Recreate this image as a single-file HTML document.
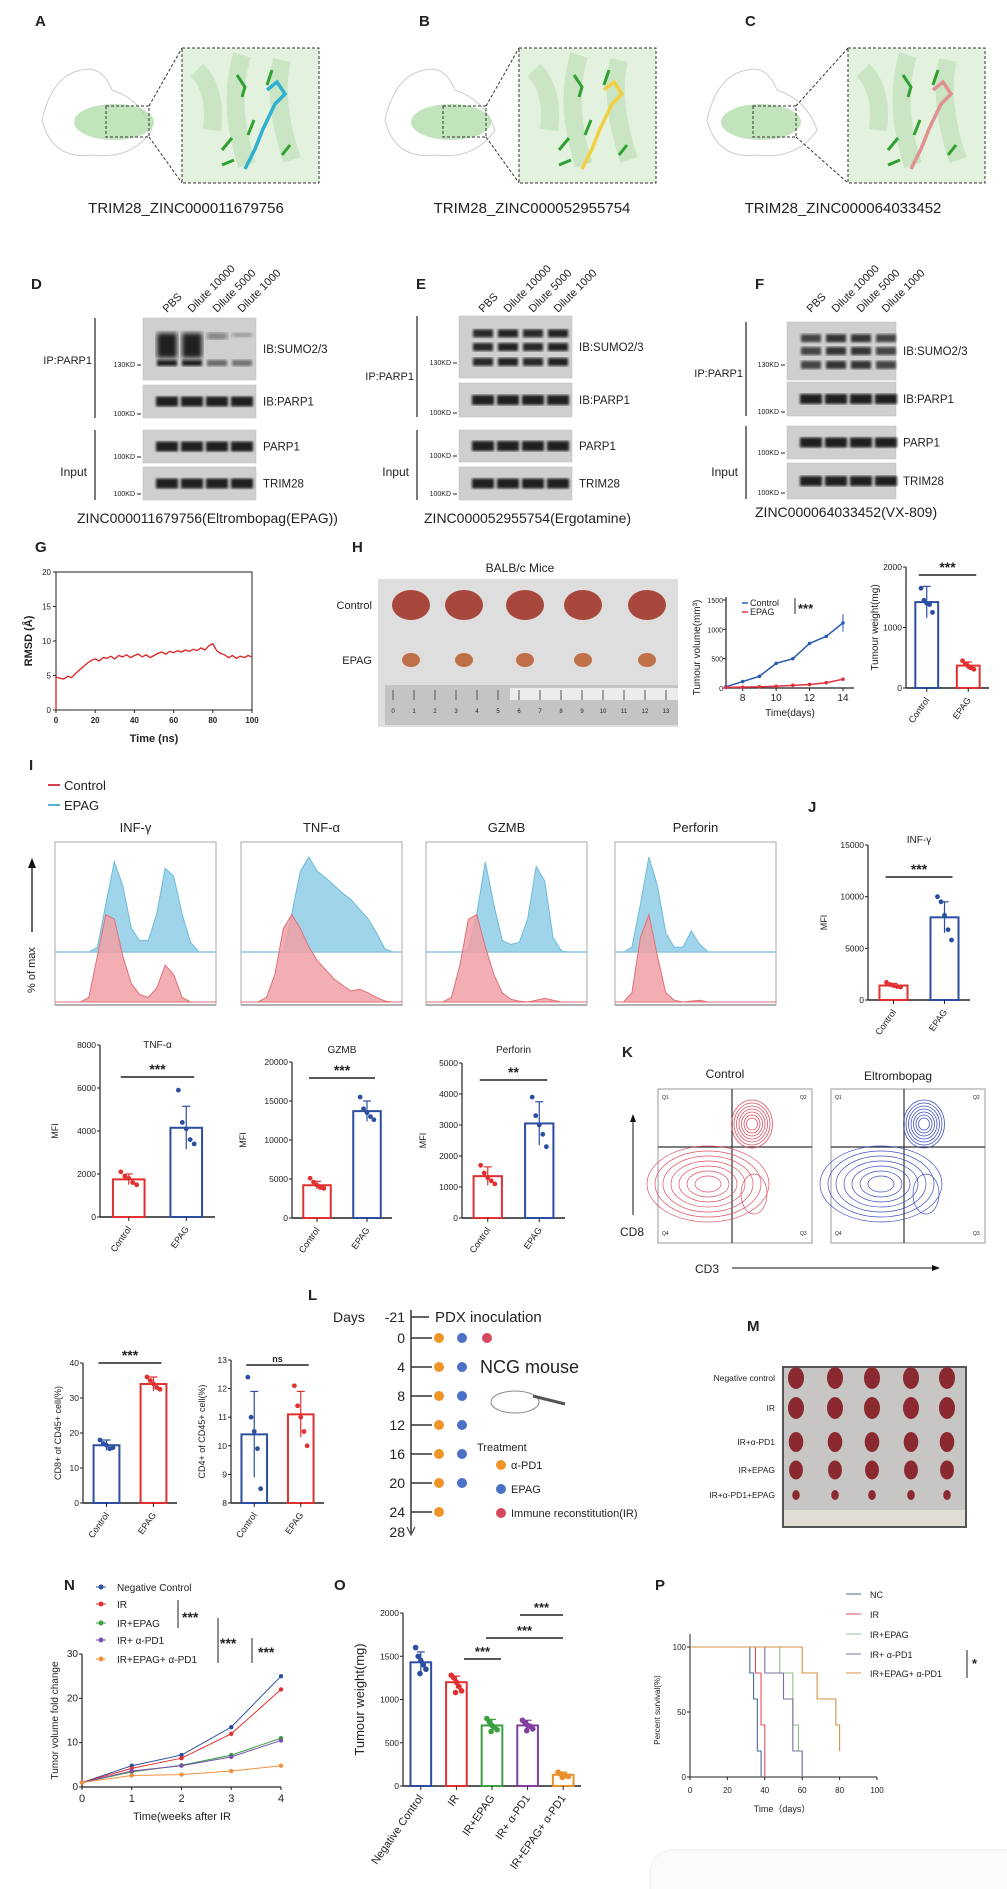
<!DOCTYPE html>
<html><head><meta charset="utf-8">
<style>
html,body{margin:0;padding:0;background:#fff;}
#fig{position:absolute;left:0;top:0;width:1007px;height:1889px;font-family:"Liberation Sans",sans-serif;}
svg text{font-family:"Liberation Sans",sans-serif;}
</style></head>
<body>
<svg id="fig" xmlns="http://www.w3.org/2000/svg" width="1007" height="1889" viewBox="0 0 1007 1889">
<defs>
<filter id="blur1"><feGaussianBlur stdDeviation="1.4"/></filter>
<filter id="blur2"><feGaussianBlur stdDeviation="2.5"/></filter>
</defs>
<g id="root"></g>
</svg>
<script>
// ===== DATA =====
const rmsdTime=[0,2,4,6,8,10,12,14,16,18,20,22,24,26,28,30,32,34,36,38,40,42,44,46,48,50,52,54,56,58,60,62,64,66,68,70,72,74,76,78,80,82,84,86,88,90,92,94,96,98,100];
const rmsdVals=[4.8,4.6,4.5,4.9,4.7,5.3,5.8,6.3,6.8,7.2,7.4,7.1,7.6,7.5,7.8,7.4,7.9,7.7,8.0,7.6,7.9,8.1,7.7,8.0,7.6,7.9,8.2,8.4,8.1,8.5,8.3,8.6,8.4,8.7,8.5,8.8,8.6,9.0,8.7,9.3,9.6,8.6,8.2,8.0,7.6,7.9,7.5,7.8,7.6,7.9,7.7];

const tvDays=[7,8,9,10,11,12,13,14];
const tvControl=[20,110,200,420,500,760,880,1110];
const tvEPAG=[10,15,20,30,45,60,90,150];
const tvTicks=[0,500,1000,1500];

const hwCats=["Control","EPAG"];
const hwVals=[1420,370];
const hwErr=[260,60];
const hwPts=[[1650,1450,1400,1380,1250],[450,400,360,330,310]];
const hwTicks=[0,1000,2000];

const histNames=["INF-γ","TNF-α","GZMB","Perforin"];
const histEPAG=[
 [0,0,0,0,0,0.05,0.5,0.95,0.7,0.25,0.12,0.12,0.4,0.88,0.8,0.4,0.1,0,0,0],
 [0,0,0,0,0,0,0.4,0.85,1.0,0.85,0.78,0.7,0.62,0.55,0.45,0.35,0.2,0.03,0,0],
 [0,0,0,0,0,0.02,0.4,0.95,0.5,0.12,0.08,0.1,0.35,0.9,0.75,0.15,0.01,0,0,0],
 [0,0,0.05,0.5,1.0,0.7,0.2,0.05,0.05,0.22,0.08,0,0,0,0,0,0,0,0,0]];
const histControl=[
 [0,0,0,0,0.05,0.5,0.95,0.9,0.5,0.2,0.08,0.05,0.15,0.4,0.3,0.05,0,0,0,0],
 [0,0,0,0.05,0.3,0.8,0.95,0.8,0.6,0.45,0.35,0.25,0.18,0.12,0.14,0.1,0.05,0.01,0,0],
 [0,0,0,0.05,0.4,0.9,0.95,0.6,0.3,0.1,0.03,0.01,0,0.02,0.04,0.02,0,0,0,0],
 [0,0,0.1,0.7,0.95,0.5,0.1,0.02,0,0.01,0.02,0,0,0,0,0,0,0,0,0]];

const jVals=[1400,8000]; const jErr=[200,1500]; const jPts=[[1700,1500,1400,1300,1250],[10000,9500,8200,6800,5800]]; const jTicks=[0,5000,10000,15000];
const tnfVals=[1750,4150]; const tnfErr=[250,1000]; const tnfPts=[[2100,1900,1800,1600,1500],[5900,4400,4100,3600,3400]]; const tnfTicks=[0,2000,4000,6000,8000];
const gzVals=[4200,13700]; const gzErr=[500,1300]; const gzPts=[[5100,4600,4200,3900,3800],[15500,14000,13500,13000,12600]]; const gzTicks=[0,5000,10000,15000,20000];
const pfVals=[1350,3050]; const pfErr=[300,700]; const pfPts=[[1700,1450,1300,1200,1100],[3900,3300,3000,2700,2300]]; const pfTicks=[0,1000,2000,3000,4000,5000];
const cd8Vals=[16.5,34]; const cd8Err=[1.5,2]; const cd8Pts=[[18,17,16.5,15.5,15.8],[36,35,34,33,32.5]]; const cd8Ticks=[0,10,20,30,40];
const cd4Vals=[10.4,11.1]; const cd4Err=[1.5,0.8]; const cd4Pts=[[12.4,11,10.5,9.9,8.5],[12.1,11.4,11,10.5,10]]; const cd4Ticks=[8,9,10,11,12,13];

const oCats=["Negative Control","IR","IR+EPAG","IR+ α-PD1","IR+EPAG+  α-PD1"];
const oVals=[1430,1200,700,700,130];
const oErr=[120,70,70,60,30];
const oPts=[[1600,1500,1450,1400,1350,1300],[1280,1250,1200,1150,1100,1080],[780,740,700,680,650,630],[760,730,700,690,660,640],[160,140,130,120,110,100]];
const oTicks=[0,500,1000,1500,2000];
const oColors=["#2b4ea0","#e03030","#3aa040","#8040a0","#e8902a"];

const nWeeks=[0,1,2,3,4];
const nSeries=[[1,4.8,7.2,13.5,25],[1,4.2,6.5,12,22],[1,3.4,4.9,7.2,11],[1,3.6,4.8,6.8,10.5],[1,2.6,2.8,3.6,4.8]];
const nNames=["Negative Control","IR","IR+EPAG","IR+ α-PD1","IR+EPAG+  α-PD1"];
const nColors=["#2b4ea0","#e03030","#3aa040","#7a50b0","#f09040"];
const nTicks=[0,10,20,30];

const pNames=["NC","IR","IR+EPAG","IR+ α-PD1","IR+EPAG+  α-PD1"];
const pColors=["#4a6a9a","#e05060","#90c090","#7a70a0","#d09040"];
const pTimes=[[0,32,34,36,38],[0,35,38,40,40],[0,48,55,58,60],[0,40,50,55,60],[0,60,68,78,80]];
const pSurv=[[100,80,60,20,0],[100,80,40,0,0],[100,80,40,20,0],[100,80,60,20,0],[100,80,60,40,20]];

// ===== HELPERS =====
const NS="http://www.w3.org/2000/svg";
const root=document.getElementById('root');
function mk(tag,attrs,name,parent){
 const el=document.createElementNS(NS,tag);
 for(const k in attrs) el.setAttribute(k,attrs[k]);
 
 
 (parent||root).appendChild(el); return el;
}
function T(x,y,s,size,name,opts,parent){
 opts=opts||{};
 const a={x:x,y:y,'font-size':size,fill:opts.fill||'#222'};
 if(opts.anchor)a['text-anchor']=opts.anchor;
 if(opts.weight)a['font-weight']=opts.weight;
 if(opts.rot!==undefined)a.transform='rotate('+opts.rot+' '+x+' '+y+')';
 if(opts.family)a['font-family']=opts.family;
 const t=mk('text',a,name,parent); t.textContent=s; return t;
}
function L(x1,y1,x2,y2,name,stroke,w,parent){return mk('line',{x1:x1,y1:y1,x2:x2,y2:y2,stroke:stroke||'#222','stroke-width':w||1},name,parent);}

[["A",35,26],["B",419,26],["C",745,26],["D",31,289],["E",416,289],["F",755,289],["G",35,552],["H",352,552],["I",29,770],["J",808,812],["K",622,1057],["L",308,1300],["M",747,1331],["N",64,1590],["O",334,1590],["P",655,1590]].forEach(p=>{
 T(p[1],p[2],p[0],15,'panel-label-'+p[0].toLowerCase(),{weight:'bold'});
});

// ===== A-C structures =====
const structs=[{ox:42,sx:106,bx:182,lab:"TRIM28_ZINC000011679756",lx:186,lig:"#30b0d0"},{ox:385,sx:443,bx:519,lab:"TRIM28_ZINC000052955754",lx:532,lig:"#f0d040"},{ox:707,sx:753,bx:848,lab:"TRIM28_ZINC000064033452",lx:843,lig:"#e09090"}];
structs.forEach((s,i)=>{
 const g=mk('g',{},'structure-panel-'+i);
 mk('path',{d:`M${s.ox},120 q10,-45 40,-50 q20,-5 30,20 q30,10 40,40 q-20,30 -60,25 q-40,5 -50,-35`,fill:'none',stroke:'#ccc','stroke-width':1},'protein-coil',g);
 mk('ellipse',{cx:s.sx+8,cy:122,rx:40,ry:18,fill:'#a8d8a0',opacity:0.7},'protein-helices',g);
 mk('rect',{x:s.sx,y:106,width:43,height:31,fill:'none',stroke:'#333','stroke-dasharray':'3,2'},'zoom-box-small',g);
 L(s.sx+43,106,s.bx,48,'zoom-line',"#333",1,g).setAttribute('stroke-dasharray','3,2');
 L(s.sx+43,137,s.bx,183,'zoom-line',"#333",1,g).setAttribute('stroke-dasharray','3,2');
 mk('rect',{x:s.bx,y:48,width:137,height:135,fill:'#e3f2de',stroke:'#333','stroke-dasharray':'3,2'},'zoom-box-large',g);
 mk('path',{d:`M${s.bx+15},70 q20,20 15,60 M${s.bx+100},60 q-10,40 10,100 M${s.bx+60},55 q-15,50 5,110`,fill:'none',stroke:'#b8dcb0','stroke-width':18,opacity:0.6},'helix-bg',g);
 mk('path',{d:`M${s.bx+85},90 l10,-8 l8,12 l-10,10 l-12,25 l-8,20 l-10,20`,fill:'none',stroke:s.lig,'stroke-width':3.5},'ligand',g);
 mk('path',{d:`M${s.bx+55},75 l8,12 l-3,10 M${s.bx+85},85 l5,-15 M${s.bx+40},150 l10,-12 M${s.bx+40},165 l12,-5 M${s.bx+72},120 l-6,15 M${s.bx+100},155 l8,-10`,fill:'none',stroke:'#30a030','stroke-width':3},'residues',g);
 T(s.lx,213,s.lab,15,'structure-caption',{anchor:'middle'},g);
});

// ===== D-F blots =====
const blots=[{x:143,w:113,cap:"ZINC000011679756(Eltrombopag(EPAG))",capx:77,capy:523,rows:[[318,62],[385,33],[430,33],[467,33]],sumo:[1,1,0.25,0.15],ipy:360,bk:95},
 {x:459,w:113,cap:"ZINC000052955754(Ergotamine)",capx:424,capy:523,rows:[[316,62],[383,34],[430,32],[467,33]],sumo:[0.85,0.9,0.85,0.9],ipy:376,bk:417},
 {x:787,w:109,cap:"ZINC000064033452(VX-809)",capx:755,capy:517,rows:[[322,58],[382,34],[426,33],[463,36]],sumo:[0.6,0.75,0.75,0.6],ipy:373,bk:746}];
const laneLab=["PBS","Dilute 10000","Dilute 5000","Dilute 1000"];
const rowNames=['IB:SUMO2/3','IB:PARP1','PARP1','TRIM28'];
blots.forEach((b,bi)=>{
 const g=mk('g',{},'western-blot-'+bi);
 laneLab.forEach((l,i)=>T(b.x+24+i*25,313,l,11,'lane-label',{rot:-45},g));
 b.rows.forEach((r,ri)=>{
  mk('rect',{x:b.x,y:r[0],width:b.w,height:r[1],fill:'#cfcfcf',stroke:'#bbb','stroke-width':0.5},'blot-strip',g);
  for(let i=0;i<4;i++){
   const cx=b.x+24+i*25;
   if(ri===0){
    const s=b.sumo[i];
    if(bi===0){
     mk('rect',{x:cx-10,y:r[0]+15,width:20,height:25*s,fill:'#111',opacity:0.3+0.6*s,filter:'url(#blur2)'},'band',g);
     mk('rect',{x:cx-10,y:r[0]+42,width:20,height:6,fill:'#111',opacity:0.4+0.5*s,filter:'url(#blur1)'},'band',g);
    } else {
     [0.28,0.5,0.74].forEach(f=>mk('rect',{x:cx-10,y:r[0]+r[1]*f-4,width:20,height:8,fill:'#111',opacity:0.35+0.6*s,filter:'url(#blur1)'},'band',g));
    }
   } else {
    mk('rect',{x:cx-11,y:r[0]+r[1]/2-5,width:22,height:10,fill:'#111',opacity:0.9,filter:'url(#blur1)'},'band',g);
   }
  }
  T(b.x+b.w+7,r[0]+r[1]/2+4,rowNames[ri],11.5,'blot-label',{},g);
 });
 [[b.rows[0][0]+b.rows[0][1]-15,'130KD'],[b.rows[1][0]+b.rows[1][1]-4,'100KD'],[b.rows[2][0]+b.rows[2][1]-6,'100KD'],[b.rows[3][0]+b.rows[3][1]-6,'100KD']].forEach(m=>{
  T(b.x-8,m[0]+2,m[1],7,'mw-marker',{anchor:'end'},g);L(b.x-6,m[0],b.x-2,m[0],'mw-tick','#222',1,g);
 });
 L(b.bk,b.rows[0][0],b.bk,b.rows[1][0]+b.rows[1][1],'bracket',"#222",1.2,g);
 T(b.bk-3,b.ipy+4,'IP:PARP1',11,'ip-label',{anchor:'end'},g);
 L(b.bk,b.rows[2][0],b.bk,b.rows[3][0]+b.rows[3][1],'bracket',"#222",1.2,g);
 T(b.bk-8,476,'Input',12,'input-label',{anchor:'end'},g);
 T(b.capx,b.capy,b.cap,14,'blot-caption',{},g);
});

// ===== G RMSD =====
(function(){
 const X=56,Y=572,W=196,H=138,xmax=100,ymax=20;
 const g=mk('g',{},'rmsd-chart');
 const sx=v=>X+v/xmax*W, sy=v=>Y+H-v/ymax*H;
 mk('rect',{x:X,y:Y,width:W,height:H,fill:'none',stroke:'#222'},'plot-frame',g);
 [0,5,10,15,20].forEach(t=>{L(X-3,sy(t),X,sy(t),'y-tick','#222',1,g);T(X-5,sy(t)+3,String(t),8,'y-tick-label',{anchor:'end'},g);});
 [0,20,40,60,80,100].forEach(t=>{L(sx(t),Y+H,sx(t),Y+H+3,'x-tick','#222',1,g);T(sx(t),Y+H+13,String(t),8,'x-tick-label',{anchor:'middle',weight:'bold'},g);});
 T(X+W/2,Y+H+32,'Time (ns)',11,'x-axis-title',{anchor:'middle',weight:'bold',family:'Liberation Serif'},g);
 T(32,Y+H/2,'RMSD (Å)',11,'y-axis-title',{anchor:'middle',weight:'bold',rot:-90,family:'Liberation Serif'},g);
 let d='M'+sx(0)+','+sy(0);
 rmsdTime.forEach((t,i)=>d+=' L'+sx(t).toFixed(1)+','+sy(rmsdVals[i]).toFixed(1));
 mk('path',{d:d,fill:'none',stroke:'#e02020','stroke-width':1.3},'rmsd-line',g);
})();

// ===== H photo =====
(function(){
 const g=mk('g',{},'tumour-photo-h');
 T(520,572,'BALB/c Mice',12,'photo-title',{anchor:'middle'},g);
 mk('rect',{x:378,y:579,width:300,height:148,fill:'#dedede'},'photo-background',g);
 T(372,609,'Control',11,'row-label',{anchor:'end'},g);
 T(372,664,'EPAG',11,'row-label',{anchor:'end'},g);
 [411,464,525,583,647].forEach((x,i)=>{
  mk('ellipse',{cx:x,cy:605,rx:19,ry:15,fill:'#a8483c'},'tumour',g);
  mk('ellipse',{cx:x,cy:660,rx:9,ry:7,fill:'#c07048'},'tumour',g);
 });
 mk('rect',{x:385,y:685,width:293,height:40,fill:'#c4c4c4'},'ruler',g);
 mk('rect',{x:510,y:688,width:168,height:12,fill:'#ececec'},'ruler-highlight',g);
 for(let i=0;i<14;i++){L(393+i*21,690,393+i*21,700,'ruler-tick','#555',1,g);T(393+i*21,713,String(i),6,'ruler-label',{anchor:'middle'},g);}
})();

// ===== H tumour volume =====
(function(){
 const X=726,Y=597,W=128,H=91,xmin=7,xmax=14.66,ymax=1551;
 const g=mk('g',{},'tumour-volume-chart');
 const sx=v=>X+(v-xmin)/(xmax-xmin)*W, sy=v=>Y+H-v/ymax*H;
 L(X,Y,X,Y+H,'y-axis','#222',1.2,g);L(X,Y+H,X+W,Y+H,'x-axis','#222',1.2,g);
 tvTicks.forEach(t=>{L(X-3,sy(t),X,sy(t),'y-tick','#222',1,g);T(X-3,sy(t)+3,String(t),7,'y-tick-label',{anchor:'end'},g);});
 [8,10,12,14].forEach(t=>{L(sx(t),Y+H,sx(t),Y+H+3,'x-tick','#222',1,g);T(sx(t),Y+H+13,String(t),10,'x-tick-label',{anchor:'middle'},g);});
 T(X+W/2,Y+H+28,'Time(days)',10,'x-axis-title',{anchor:'middle'},g);
 T(X-26,Y+H/2+5,'Tumour volume(mm³)',10,'y-axis-title',{anchor:'middle',rot:-90},g);
 [[tvControl,'#2b5cb0','control'],[tvEPAG,'#e03040','epag']].forEach(s=>{
  let d='';tvDays.forEach((t,i)=>d+=(i?' L':'M')+sx(t)+','+sy(s[0][i]));
  mk('path',{d:d,fill:'none',stroke:s[1],'stroke-width':1.5},'line-'+s[2],g);
  tvDays.forEach((t,i)=>mk('circle',{cx:sx(t),cy:sy(s[0][i]),r:1.8,fill:s[1]},'point-'+s[2],g));
 });
 L(sx(14),sy(tvControl[7]+150),sx(14),sy(tvControl[7]-150),'error-bar','#2b5cb0',1,g);
 L(742,603,748,603,'legend-line','#2b5cb0',1.5,g);T(750,606,'Control',9,'legend-entry',{},g);
 L(742,612,748,612,'legend-line','#e03040',1.5,g);T(750,615,'EPAG',9,'legend-entry',{},g);
 L(795,598,795,614,'sig-bracket','#222',1,g);T(798,613,'***',13,'significance',{weight:'bold'},g);
})();

// ===== generic bar chart =====
function barChart(name,X,Y,W,H,ymin,ymax,ticks,cats,vals,errs,pts,cols,opt){
 opt=opt||{};
 const g=mk('g',{},name);
 const n=cats.length, sy=v=>Y+H-(v-ymin)/(ymax-ymin)*H, bw=W/n*(opt.bw||0.55);
 L(X,Y,X,Y+H,'y-axis','#222',1.2,g);L(X,Y+H,X+W,Y+H,'x-axis','#222',1.5,g);
 ticks.forEach(t=>{L(X-3,sy(t),X,sy(t),'y-tick','#222',1,g);T(X-4,sy(t)+3,String(t),opt.tf||8.5,'y-tick-label',{anchor:'end'},g);});
 cats.forEach((c,i)=>{
  const cx=X+(i+0.5)*W/n, col=cols[i];
  mk('rect',{x:cx-bw/2,y:sy(vals[i]),width:bw,height:sy(ymin)-sy(vals[i]),fill:opt.fill?col:'#fff','fill-opacity':opt.fill?0.15:1,stroke:col,'stroke-width':2},'bar-'+c.toLowerCase().replace(/[^a-z0-9]+/g,'-'),g);
  L(cx,sy(vals[i]+errs[i]),cx,sy(vals[i]-errs[i]),'error-bar',col,1.2,g);
  L(cx-4,sy(vals[i]+errs[i]),cx+4,sy(vals[i]+errs[i]),'error-cap',col,1.2,g);
  L(cx,Y+H,cx,Y+H+4,'x-tick','#222',1,g);
  pts[i].forEach((p,j)=>mk('circle',{cx:cx+[-6,-3,0,3,6,-1][j%6]*(bw/24),cy:sy(p),r:opt.pr||2.4,fill:col},'data-point',g));
  T(cx+3,Y+H+12,c,opt.cf||9,'x-category-label',{anchor:'end',rot:-55},g);
 });
 if(opt.title)T(X+W/2+(opt.tdx||0),opt.ty||Y-8,opt.title,10,'chart-title',{anchor:'middle'},g);
 if(opt.ylabel)T(opt.yx,Y+H/2,opt.ylabel,opt.yf||9,'y-axis-title',{anchor:'middle',rot:-90},g);
 if(opt.sig){const yy=opt.sigY;const c0=X+0.5*W/n-8,c1=X+1.5*W/n+8;L(c0,yy,c1,yy,'sig-bar','#222',1.5,g);T((c0+c1)/2,yy-3,opt.sig,opt.sigf||14,'significance',{anchor:'middle',weight:'bold'},g);}
 return g;
}
const BL='#2b4ea0',RD='#e03030';
barChart('tumour-weight-chart',906,567,83,121,0,2000,hwTicks,hwCats,hwVals,hwErr,hwPts,[BL,RD],{ylabel:'Tumour weight(mg)',yx:878,yf:10,sig:'***',sigY:575,sigf:14});
barChart('inf-mfi-chart',868,845,102,155,0,15000,jTicks,hwCats,jVals,jErr,jPts,[RD,BL],{title:'INF-γ',ty:843,tdx:0,ylabel:'MFI',yx:827,sig:'***',sigY:877});
barChart('tnf-mfi-chart',100,1045,115,172,0,8000,tnfTicks,hwCats,tnfVals,tnfErr,tnfPts,[RD,BL],{title:'TNF-α',ty:1048,ylabel:'MFI',yx:58,sig:'***',sigY:1077});
barChart('gzmb-mfi-chart',292,1062,100,156,0,20000,gzTicks,hwCats,gzVals,gzErr,gzPts,[RD,BL],{title:'GZMB',ty:1053,ylabel:'MFI',yx:246,sig:'***',sigY:1078});
barChart('perforin-mfi-chart',462,1063,103,155,0,5000,pfTicks,hwCats,pfVals,pfErr,pfPts,[RD,BL],{title:'Perforin',ty:1053,ylabel:'MFI',yx:426,sig:'**',sigY:1080});
barChart('cd8-chart',83,1363,94,140,0,40,cd8Ticks,hwCats,cd8Vals,cd8Err,cd8Pts,[BL,RD],{ylabel:'CD8+ of CD45+ cell(%)',yx:61,sig:'***',sigY:1363});
barChart('cd4-chart',231,1360,93,143,8,13,cd4Ticks,hwCats,cd4Vals,cd4Err,cd4Pts,[BL,RD],{ylabel:'CD4+ of CD45+ cell(%)',yx:205,sig:'ns',sigY:1365,sigf:9});
barChart('tumour-weight-o',403,1613,178,173,0,2000,oTicks,oCats,oVals,oErr,oPts,oColors,{ylabel:'Tumour weight(mg)',yx:364,yf:13,cf:11,bw:0.58,pr:2.8});
(function(){const g=mk('g',{},'o-significance');
 [[464,501,1659,'***'],[486,563,1638,'***'],[520,563,1615,'***']].forEach(s=>{L(s[0],s[2],s[1],s[2],'sig-bar','#222',1.5,g);T((s[0]+s[1])/2,s[2]-3,s[3],13,'significance',{anchor:'middle',weight:'bold'},g);});
})();

// ===== I histograms =====
L(48,785,60,785,'legend-line-control','#d04050',2);T(64,790,'Control',13,'legend-entry-control');
L(48,805,60,805,'legend-line-epag','#5ab0d8',2);T(64,810,'EPAG',13,'legend-entry-epag');
L(32,932,32,866,'y-arrow','#111',1.3);mk('path',{d:'M28,868 L32,858 L36,868 Z',fill:'#111'},'y-arrow-head');
T(35,970,'% of max',11,'y-axis-title',{rot:-90,anchor:'middle'});
const histX=[55,241,426,615];
histNames.forEach((nm,k)=>{
 const X=histX[k],Y=842,W=161,H=163;
 const g=mk('g',{},'histogram-'+nm.toLowerCase().replace(/[^a-z]+/g,'-'));
 T(X+W/2,Y-10,nm,13,'histogram-title',{anchor:'middle'},g);
 mk('rect',{x:X,y:Y,width:W,height:H,fill:'#fff',stroke:'#aaa'},'histogram-frame',g);
 const step=W/(histEPAG[k].length-1), bb=Y+110, rb=Y+160;
 let d='M'+X+','+bb;histEPAG[k].forEach((v,i)=>d+=' L'+(X+i*step).toFixed(1)+','+(bb-v*95).toFixed(1));d+=' L'+(X+W)+','+bb+'Z';
 mk('path',{d:d,fill:'#9fd4ea',stroke:'#6cbcd8','stroke-width':1},'epag-histogram',g);
 L(X,bb,X+W,bb,'baseline','#8cc8e0',1.5,g);
 let d2='M'+X+','+rb;histControl[k].forEach((v,i)=>d2+=' L'+(X+i*step).toFixed(1)+','+(rb-v*92).toFixed(1));d2+=' L'+(X+W)+','+rb+'Z';
 mk('path',{d:d2,fill:'#f0a0a4',stroke:'#e07078','stroke-width':1,'fill-opacity':0.85},'control-histogram',g);
 L(X,Y+H,X+W,Y+H,'x-axis','#666',1,g);
});

// ===== K contour =====
T(725,1078,'Control',12,'contour-title-control',{anchor:'middle'});
T(898,1080,'Eltrombopag',12,'contour-title-eltrombopag',{anchor:'middle'});
[[658,'#e05060',732],[831,'#4050c0',904]].forEach((c,k)=>{
 const X=c[0],Y=1089,W=154,H=154;
 const g=mk('g',{},'contour-plot-'+k);
 mk('rect',{x:X,y:Y,width:W,height:H,fill:'#fff',stroke:'#999'},'contour-frame',g);
 L(c[2],Y,c[2],Y+H,'gate-line','#333',1.2,g);L(X,1147,X+W,1147,'gate-line','#333',1.2,g);
 for(let r=1;r<=7;r++){
  mk('ellipse',{cx:X+50,cy:Y+95,rx:5+r*8,ry:3+r*5,fill:'none',stroke:c[1],'stroke-width':0.7},'contour',g);
  mk('ellipse',{cx:c[2]+20,cy:Y+35,rx:3+r*2.5,ry:3+r*3,fill:'none',stroke:c[1],'stroke-width':0.8},'contour',g);
 }
 mk('ellipse',{cx:c[2]+22,cy:Y+105,rx:13,ry:20,fill:'none',stroke:c[1],'stroke-width':0.7},'contour',g);
 T(X+4,Y+10,'Q1',5,'quadrant-label',{},g);T(X+W-12,Y+10,'Q2',5,'quadrant-label',{},g);
 T(X+4,Y+H-8,'Q4',5,'quadrant-label',{},g);T(X+W-12,Y+H-8,'Q3',5,'quadrant-label',{},g);
});
L(633,1215,633,1118,'cd8-arrow','#111',1);mk('path',{d:'M630,1122 L633,1114 L636,1122Z',fill:'#111'},'cd8-arrow-head');
T(632,1236,'CD8',12,'y-axis-title',{anchor:'middle'});
L(732,1268,936,1268,'cd3-arrow','#111',1);mk('path',{d:'M932,1265 L940,1268 L932,1271Z',fill:'#111'},'cd3-arrow-head');
T(707,1273,'CD3',12,'x-axis-title',{anchor:'middle'});

// ===== L timeline =====
(function(){
 const g=mk('g',{},'treatment-timeline');
 T(333,1322,'Days',14,'timeline-title',{},g);
 T(405,1322,'-21',14,'day-label',{anchor:'end'},g);
 L(411,1317,429,1317,'day-tick','#333',1.5,g);
 T(435,1322,'PDX inoculation',15,'event-label',{},g);
 L(411,1310,411,1533,'timeline-axis','#333',1.5,g);
 mk('path',{d:'M407,1527 L411,1535 L415,1527',fill:'none',stroke:'#333'},'timeline-arrow',g);
 const days=[0,4,8,12,16,20,24,28];
 const dayY=[1338,1367,1396,1425,1454,1483,1512,1532];
 days.forEach((d,i)=>{
  const y=dayY[i];
  T(405,y+5,String(d),14,'day-label',{anchor:'end'},g);
  if(i<7)L(411,y,432,y,'day-tick','#333',1.5,g);
  if(i<7)mk('circle',{cx:439,cy:y,r:5,fill:'#f0952a'},'dot-apd1',g);
  if(i<6)mk('circle',{cx:462,cy:y,r:5,fill:'#4a70c8'},'dot-epag',g);
  if(i===0)mk('circle',{cx:487,cy:y,r:5,fill:'#d84860'},'dot-ir',g);
 });
 T(480,1373,'NCG mouse',18,'model-label',{},g);
 mk('ellipse',{cx:515,cy:1402,rx:24,ry:11,fill:'#fff',stroke:'#888'},'mouse-icon',g);
 L(533,1396,565,1404,'syringe','#555',3,g);
 T(477,1451,'Treatment',11,'legend-title',{},g);
 [['α-PD1','#f0952a',1469],['EPAG','#4a70c8',1493],['Immune reconstitution(IR)','#d84860',1517]].forEach(e=>{
  mk('circle',{cx:501,cy:e[2]-4,r:5,fill:e[1]},'legend-dot',g);T(511,e[2],e[0],11,'legend-entry',{},g);
 });
})();

// ===== M photo =====
(function(){
 const g=mk('g',{},'tumour-photo-m');
 mk('rect',{x:782,y:1366,width:185,height:162,fill:'#555'},'photo-border',g);
 mk('rect',{x:784,y:1368,width:181,height:158,fill:'#c8c6c4'},'photo-background',g);
 const rows=['Negative control','IR','IR+α-PD1','IR+EPAG','IR+α-PD1+EPAG'];
 const ry=[1378,1408,1442,1470,1495];
 rows.forEach((r,i)=>{
  const y=ry[i];
  T(775,y+3,r,8.5,'row-label',{anchor:'end'},g);
  const s=[1,1,0.9,0.85,0.4][i];
  [796,835,872,911,947].forEach(x=>mk('ellipse',{cx:x,cy:y,rx:7*s+1,ry:10*s+1,fill:'#8a2a30'},'tumour',g));
 });
 mk('rect',{x:784,y:1510,width:181,height:16,fill:'#e0ddd4'},'ruler',g);
})();

// ===== N line chart =====
(function(){
 const X=82,Y=1654,W=199,H=133,ymax=30;
 const g=mk('g',{},'fold-change-chart');
 const sx=v=>X+v/4*W, sy=v=>Y+H-v/ymax*H;
 L(X,Y,X,Y+H,'y-axis','#222',1.2,g);L(X,Y+H,X+W,Y+H,'x-axis','#222',1.2,g);
 nTicks.forEach(t=>{L(X-3,sy(t),X,sy(t),'y-tick','#222',1,g);T(X-4,sy(t)+3,String(t),10,'y-tick-label',{anchor:'end'},g);});
 nWeeks.forEach(t=>{L(sx(t),Y+H,sx(t),Y+H+3,'x-tick','#222',1,g);T(sx(t),1802,String(t),11,'x-tick-label',{anchor:'middle'},g);});
 T(182,1820,'Time(weeks after IR',11,'x-axis-title',{anchor:'middle'},g);
 T(58,Y+H/2,'Tumor volume fold change',10,'y-axis-title',{anchor:'middle',rot:-90},g);
 nSeries.forEach((s,k)=>{
  let d='';nWeeks.forEach((t,i)=>d+=(i?' L':'M')+sx(t)+','+sy(s[i]));
  mk('path',{d:d,fill:'none',stroke:nColors[k],'stroke-width':1},'line-series-'+k,g);
  nWeeks.forEach((t,i)=>mk('circle',{cx:sx(t),cy:sy(s[i]),r:2.2,fill:nColors[k]},'point',g));
  const ly=[1587,1604,1623,1640,1659][k];
  L(96,ly,106,ly,'legend-line',nColors[k],1,g);mk('circle',{cx:101,cy:ly,r:2.5,fill:nColors[k]},'legend-marker',g);
  T(117,ly+4,nNames[k],10,'legend-entry',{},g);
 });
 L(178,1600,178,1628,'sig-bracket','#222',1,g);T(182,1622,'***',14,'significance',{weight:'bold'},g);
 L(218,1618,218,1663,'sig-bracket','#222',1,g);T(220,1648,'***',14,'significance',{weight:'bold'},g);
 L(252,1638,252,1663,'sig-bracket','#222',1,g);T(258,1657,'***',14,'significance',{weight:'bold'},g);
})();

// ===== P survival =====
(function(){
 const X=690,W=187;
 const g=mk('g',{},'survival-chart');
 const sx=v=>X+v/100*W, sy=v=>1777-v*1.3;
 L(X,1634,X,1777,'y-axis','#222',1,g);L(X,1777,X+W,1777,'x-axis','#222',1,g);
 [0,50,100].forEach(t=>{L(X-3,sy(t),X,sy(t),'y-tick','#222',1,g);T(X-4,sy(t)+3,String(t),8,'y-tick-label',{anchor:'end'},g);});
 [0,20,40,60,80,100].forEach(t=>{L(sx(t),1777,sx(t),1780,'x-tick','#222',1,g);T(sx(t),1793,String(t),8,'x-tick-label',{anchor:'middle'},g);});
 T(782,1812,'Time（days）',9,'x-axis-title',{anchor:'middle'},g);
 T(660,1710,'Percent survival(%)',8,'y-axis-title',{anchor:'middle',rot:-90},g);
 pTimes.forEach((ts,k)=>{
  let d='M'+sx(0)+','+sy(100);
  for(let i=1;i<ts.length;i++){d+=' H'+sx(ts[i])+' V'+sy(pSurv[k][i]);}
  mk('path',{d:d,fill:'none',stroke:pColors[k],'stroke-width':1.1},'survival-curve-'+k,g);
  const ly=[1594,1614,1634,1654,1673][k];
  L(846,ly,861,ly,'legend-line',pColors[k],1,g);T(870,ly+4,pNames[k],9,'legend-entry',{},g);
 });
 L(967,1650,967,1678,'sig-bracket','#222',1,g);T(972,1668,'*',13,'significance',{weight:'bold'},g);
})();

mk('rect',{x:650,y:1850,width:380,height:60,rx:22,fill:'#fbfbfb',stroke:'#eeeeee'},'watermark-card');
</script>
</body></html>
